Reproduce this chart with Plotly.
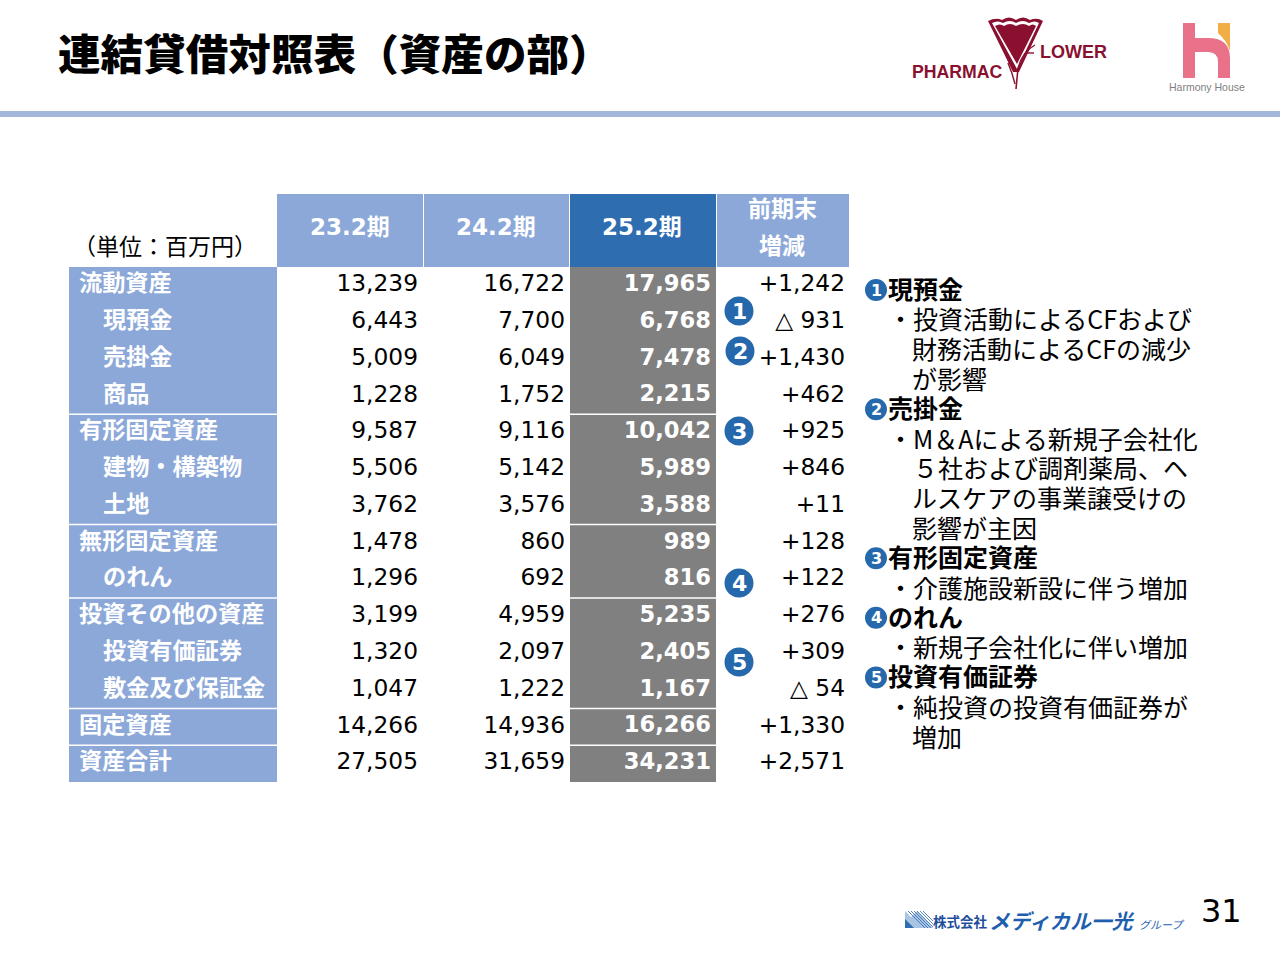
# -*- coding: utf-8 -*-
"""連結貸借対照表（資産の部）"""

import plotly.graph_objects as go

# データ
rows = ['流動資産', '現預金', '売掛金', '商品', '有形固定資産', '建物・構築物', '土地',
        '無形固定資産', 'のれん', '投資その他の資産', '投資有価証券', '敷金及び保証金',
        '固定資産', '資産合計']
is_sub = [False, True, True, True, False, True, True, False, True, False, True, True, False, False]
fy23 = [13239, 6443, 5009, 1228, 9587, 5506, 3762, 1478, 1296, 3199, 1320, 1047, 14266, 27505]
fy24 = [16722, 7700, 6049, 1752, 9116, 5142, 3576, 860, 692, 4959, 2097, 1222, 14936, 31659]
fy25 = [17965, 6768, 7478, 2215, 10042, 5989, 3588, 989, 816, 5235, 2405, 1167, 16266, 34231]
change = [1242, -931, 1430, 462, 925, 846, 11, 128, 122, 276, 309, -54, 1330, 2571]
periods = ['23.2期', '24.2期', '25.2期']
change_header = ['前期末', '増減']
unit_label = '（単位：百万円）'
title_text = '連結貸借対照表（資産の部）'
notes = [
    ('現預金', ['・投資活動によるCFおよび', '財務活動によるCFの減少', 'が影響']),
    ('売掛金', ['・M＆Aによる新規子会社化', '５社および調剤薬局、ヘ', 'ルスケアの事業譲受けの', '影響が主因']),
    ('有形固定資産', ['・介護施設新設に伴う増加']),
    ('のれん', ['・新規子会社化に伴い増加']),
    ('投資有価証券', ['・純投資の投資有価証券が', '増加']),
]
page_number = '31'

FONT = 'DejaVu Sans, Noto Sans CJK JP'
JP = 'Noto Sans CJK JP'
LIGHT = '#8CA8D9'
DARK = '#2E6DB0'
GRAY = '#808080'
BADGE = '#2569AC'
MAROON = '#8A1030'
NONE = 'rgba(0,0,0,0)'


def fmt_change(v):
    return f'△ {-v:,}' if v < 0 else f'+{v:,}'


fig = go.Figure()
idx = list(range(len(rows)))

# 数値の列
for values, right, color, bold, size in [(fy23, 418, 'black', False, 23.3), (fy24, 565, 'black', False, 23.3),
                                         (fy25, 711, 'white', True, 22.6)]:
    fig.add_trace(go.Scatter(
        x=[right] * len(rows), y=idx, yaxis='y2', mode='text',
        text=[f'<b>{v:,}</b>' if bold else f'{v:,}' for v in values],
        textposition='middle left', textfont=dict(size=size, color=color, family=FONT),
        hoverinfo='skip', showlegend=False))
fig.add_trace(go.Scatter(
    x=[845] * len(rows), y=idx, yaxis='y2', mode='text',
    text=[fmt_change(v) for v in change],
    textposition='middle left', textfont=dict(size=23.3, color='black', family=FONT),
    hoverinfo='skip', showlegend=False))

# 科目名
fig.add_trace(go.Scatter(
    x=[103 if s else 79 for s in is_sub], y=idx, yaxis='y2', mode='text',
    text=[f'<b>{r}</b>' for r in rows],
    textposition='middle right', textfont=dict(size=23.2, color='white', family=JP),
    hoverinfo='skip', showlegend=False))

shapes = []


def rect(x0, y0, x1, y1, color, yref='y', layer='below'):
    shapes.append(dict(type='rect', x0=x0, x1=x1, y0=y0, y1=y1, xref='x', yref=yref,
                       fillcolor=color, line_width=0, layer=layer))


def circle(cx, cy, r, color):
    shapes.append(dict(type='circle', x0=cx - r, x1=cx + r, y0=cy - r, y1=cy + r, xref='x', yref='y',
                       fillcolor=color, line_width=0, layer='below'))


def path(d, color, line=0, line_color=None):
    shapes.append(dict(type='path', path=d, xref='x', yref='y', fillcolor=color,
                       line=dict(width=line, color=line_color or color), layer='below'))


anns = []


def text(x, y, s, size, color='black', anchor='left', family=FONT, weight=None):
    font = dict(size=size, color=color, family=family)
    if weight:
        font['weight'] = weight
    anns.append(dict(x=x, y=y, xref='x', yref='y', text=s, showarrow=False, xanchor=anchor,
                     yanchor='middle', font=font))


# タイトルと区切り線
text(56, 51, title_text, 42.6, family=JP, weight=900)
rect(0, 111, 1280, 117, '#A4B8DC')

# 表の背景
rect(69, 267, 277, 782, LIGHT)
rect(570, 267, 716, 782, GRAY)
rect(277, 194, 423, 267, LIGHT)
rect(424, 194, 569, 267, LIGHT)
rect(570, 194, 716, 267, DARK)
rect(717, 194, 849, 267, LIGHT)
for i, s in enumerate(is_sub[1:], start=1):
    if not s:
        for x0, x1 in [(69, 277), (570, 716)]:
            shapes.append(dict(type='line', x0=x0, x1=x1, y0=i - 0.5, y1=i - 0.5, xref='x', yref='y2',
                               line=dict(color='white', width=1.5), layer='above'))

# 見出し
for label, cx in zip(periods, [350, 496, 642]):
    text(cx, 227, f'<b>{label}</b>', 23, 'white', 'center')
text(782, 207, f'<b>{change_header[0]}</b>', 23, 'white', 'center', JP)
text(782, 244, f'<b>{change_header[1]}</b>', 23, 'white', 'center', JP)
text(71, 245, unit_label, 23, family=JP)

# 番号バッジ（表）
for n, (cx, cy) in enumerate([(739, 311), (740, 351), (739, 431), (739, 583), (739, 662)], start=1):
    circle(cx, cy, 14.5, BADGE)
    text(cx, cy, f'<b>{n}</b>', 22, 'white', 'center')

# 右側の注記
y = 290
for n, (head, lines) in enumerate(notes, start=1):
    circle(876, y, 11, BADGE)
    text(876, y, f'<b>{n}</b>', 16, 'white', 'center')
    text(886, y - 2, f'<b>{head}</b>', 25, family=JP)
    y += 29.8
    for line in lines:
        x = 886 if line.startswith('・') else 911 if line.startswith('５') else 909.5
        text(x, y - 1.5, line, 25, family=JP)
        y += 29.8

# ページ番号
text(1221, 911, page_number, 32, anchor='center')

# PHARMAC FLOWER ロゴ
path('M 988 21 Q 996 17 1002 20 Q 1009 15 1016 20 Q 1023 15 1030 20 Q 1037 17 1043 21 '
     'L 1019 72 L 1013 72 Z', MAROON)
path('M 992 23 Q 998 20 1003 23 Q 1010 19 1016 23 Q 1023 19 1029 23 Q 1035 20 1039 23 L 1017 69 Z', 'white')
path('M 995 26 Q 1000 23 1004 26 Q 1010 22 1016 26 Q 1023 22 1029 26 Q 1033 23 1036 26 L 1017 64 Z', MAROON)
path('M 1018 68 L 1016 89', NONE, 1.6, MAROON)
path('M 1018 68 Q 1022 52 1035 45', NONE, 1.4, MAROON)
path('M 1026 53 L 1034 53', NONE, 1.4, MAROON)
path('M 1008 63 Q 1012 72 1015 84', NONE, 1.4, MAROON)
text(1073, 52, 'LOWER', 18, MAROON, 'center', 'Liberation Sans', weight=700)
text(957.5, 72, 'PHARMAC', 17.7, MAROON, 'center', 'Liberation Sans', weight=700)

# Harmony House ロゴ
path('M 1183 23 L 1195 23 L 1195 38 L 1208 38 Q 1230 38 1230 58 L 1230 78 L 1218 78 L 1218 62 '
     'Q 1218 52 1208 52 L 1195 52 L 1195 78 L 1183 78 Z', '#E9728A')
path('M 1218 23 L 1230 23 L 1230 51 Q 1227 41 1218 33 Z', '#F0AE45')
text(1207, 87, 'Harmony House', 10.5, '#808080', 'center', 'Liberation Sans')

# メディカル一光 ロゴ
path('M 905 928 L 905 911 L 911 917 L 917 911 L 933 928 Z', '#A9C3E2')
path('M 905 928 L 905 919 L 914 928 Z', '#2F6DB0')
for off in range(0, 18, 3):
    shapes.append(dict(type='line', x0=908 + off, x1=925 + off, y0=911, y1=928, xref='x', yref='y',
                       line=dict(color='#2F6DB0', width=0.8), layer='below'))
shapes.append(dict(type='rect', x0=933, x1=950, y0=910, y1=930, xref='x', yref='y',
                   fillcolor='white', line_width=0, layer='below'))
text(931, 921, '<b>株式会社</b>', 13.5, '#1F4E9A', 'left', JP)
text(987, 920, '<b><i>メディカル一光</i></b>', 20.7, '#1F5FAF', 'left', JP)
text(1137, 924, '<i>グループ</i>', 11, '#1F5FAF', 'left', JP)

fig.update_layout(
    width=1280, height=960, margin=dict(l=0, r=0, t=0, b=0, autoexpand=False),
    paper_bgcolor='white', plot_bgcolor=NONE, showlegend=False,
    xaxis=dict(range=[0, 1280], domain=[0, 1], visible=False, fixedrange=True),
    yaxis=dict(range=[960, 0], domain=[0, 1], visible=False, fixedrange=True),
    # 行番号の軸
    yaxis2=dict(range=[len(rows) - 0.5, -0.5], domain=[1 - 782 / 960, 1 - 267 / 960],
                anchor='x', visible=False, fixedrange=True),
    shapes=shapes, annotations=anns,
)

fig.write_html('out.html', config=dict(displayModeBar=False),
               post_script="document.body.style.margin='0'")
